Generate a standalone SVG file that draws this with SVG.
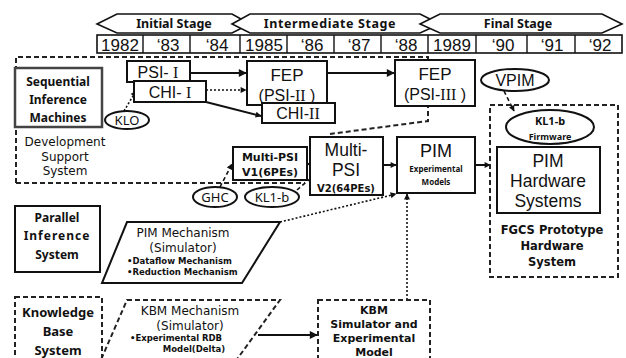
<svg xmlns="http://www.w3.org/2000/svg" width="626" height="358" viewBox="0 0 626 358">
<defs>
<marker id="ah" viewBox="0 0 10 10" refX="9" refY="5" markerWidth="9" markerHeight="8" orient="auto" markerUnits="userSpaceOnUse"><path d="M0,0 L10,5 L0,10 Z" fill="#111"/></marker>
<marker id="ahs" viewBox="0 0 10 10" refX="9" refY="5" markerWidth="7" markerHeight="6" orient="auto" markerUnits="userSpaceOnUse"><path d="M0,0 L10,5 L0,10 Z" fill="#111"/></marker>
</defs>
<style>
.box{fill:#fff;stroke:#111;stroke-width:2}
.gbox{fill:#fff;stroke:#444;stroke-width:2.5}
.dbox{fill:none;stroke:#222;stroke-width:2;stroke-dasharray:5 3}
.stage{fill:#fff;stroke:#111;stroke-width:1.6}
.t{font-family:"Noto Sans","Liberation Sans",sans-serif;fill:#111;text-anchor:middle}
.L{font-family:"Liberation Sans","Noto Sans",sans-serif;fill:#111;text-anchor:middle}
.D{font-family:"DejaVu Sans","Liberation Sans",sans-serif;fill:#111;text-anchor:middle}
.s{text-anchor:start}
.b{font-weight:bold}
.rn{font-family:"Liberation Serif",serif}
.yr{font-family:"Liberation Sans",sans-serif;font-size:17px;fill:#111;text-anchor:middle}
.ln{fill:none;stroke:#111;stroke-width:2}
.dot{fill:none;stroke:#111;stroke-width:1.6;stroke-dasharray:2 2}
.dsh{fill:none;stroke:#111;stroke-width:1.6;stroke-dasharray:4 3}
</style>

<g id="stages">
<polygon class="stage" points="97,24 117,14 232,14 250,24 232,33 117,33"/>
<polygon class="stage" points="232,24 250,14 420,14 440,24 420,33 250,33"/>
<polygon class="stage" points="420,24 440,14 602,14 622,24 602,33 440,33"/>
<text class="t b" x="174" y="28" font-size="12.5">Initial Stage</text>
<text class="t b" x="330" y="28" font-size="12.5" letter-spacing="0.6">Intermediate Stage</text>
<text class="t b" x="518" y="28" font-size="12.5">Final Stage</text>
</g>

<g id="years">
<rect x="97" y="35" width="525" height="18" fill="#fff" stroke="#111" stroke-width="1.6"/>
<g stroke="#111" stroke-width="1.4">
<line x1="143" y1="35" x2="143" y2="53"/><line x1="190" y1="35" x2="190" y2="53"/><line x1="240" y1="35" x2="240" y2="53"/>
<line x1="287" y1="35" x2="287" y2="53"/><line x1="334" y1="35" x2="334" y2="53"/><line x1="381" y1="35" x2="381" y2="53"/>
<line x1="428" y1="35" x2="428" y2="53"/><line x1="476" y1="35" x2="476" y2="53"/><line x1="527" y1="35" x2="527" y2="53"/>
<line x1="575" y1="35" x2="575" y2="53"/>
</g>
<text class="yr" x="120" y="51">1982</text>
<text class="yr" x="168" y="51">‘83</text>
<text class="yr" x="217" y="51">‘84</text>
<text class="yr" x="264" y="51">1985</text>
<text class="yr" x="312" y="51">‘86</text>
<text class="yr" x="359" y="51">‘87</text>
<text class="yr" x="406" y="51">‘88</text>
<text class="yr" x="452" y="51">1989</text>
<text class="yr" x="503" y="51">‘90</text>
<text class="yr" x="552" y="51">‘91</text>
<text class="yr" x="600" y="51">‘92</text>
</g>

<g id="dev-region">
<path class="dbox" d="M16,183 L16,57 L428,57 L428,121 L330,134"/>
<path class="dbox" d="M16,183 L305,183"/>
<text class="D" x="65" y="146" font-size="12">Development</text>
<text class="D" x="65" y="160.5" font-size="12">Support</text>
<text class="D" x="65" y="175" font-size="12">System</text>
</g>

<g id="connectors">
<line class="ln" x1="190" y1="73" x2="246" y2="73" stroke-width="3" marker-end="url(#ah)"/>
<line class="dot" x1="206" y1="90" x2="246" y2="90" marker-end="url(#ahs)"/>
<line class="ln" x1="206" y1="102" x2="261" y2="116" stroke-width="1.6" marker-end="url(#ahs)"/>
<line class="ln" x1="327" y1="73" x2="394" y2="73" stroke-width="1.8" marker-end="url(#ah)"/>
<line class="dsh" x1="504" y1="91" x2="514" y2="111" marker-end="url(#ahs)"/>
<line class="dot" x1="124" y1="111" x2="136" y2="91" marker-end="url(#ahs)"/>
<line class="dsh" x1="220" y1="187" x2="232" y2="164" marker-end="url(#ahs)"/>
<line class="dsh" x1="297" y1="190" x2="311" y2="178"/>
<line class="ln" x1="303" y1="164" x2="310" y2="164" marker-end="url(#ahs)"/>
<line class="ln" x1="383" y1="165" x2="396" y2="165" stroke-width="2.4" marker-end="url(#ahs)"/>
<line class="ln" x1="475" y1="165" x2="490" y2="165" stroke-width="2.4" marker-end="url(#ahs)"/>
<line class="dot" x1="280" y1="222" x2="396" y2="194" marker-end="url(#ahs)"/>
<line class="dot" x1="407" y1="300" x2="407" y2="194" marker-end="url(#ahs)"/>
<line class="ln" x1="258" y1="335" x2="317" y2="335" stroke-width="1.8" marker-end="url(#ah)"/>
</g>

<g id="seq">
<rect class="gbox" x="15" y="68" width="87" height="59"/>
<text class="t b" x="58" y="86" font-size="12">Sequential</text>
<text class="t b" x="58" y="104" font-size="12">Inference</text>
<text class="t b" x="58" y="122" font-size="12">Machines</text>
</g>

<g id="psi1">
<rect class="box" x="127" y="61" width="63" height="21"/>
<text class="L" x="158" y="78" font-size="16">PSI- <tspan class="rn">I</tspan></text>
</g>
<g id="chi1">
<rect class="box" x="134" y="81" width="72" height="21"/>
<text class="L" x="170" y="98" font-size="16">CHI- <tspan class="rn">I</tspan></text>
</g>
<g id="fep2">
<rect class="box" x="247" y="61" width="80" height="44"/>
<text class="L" x="287" y="81" font-size="17">FEP</text>
<text class="L" x="287" y="101" font-size="16">(PSI-<tspan class="rn">II</tspan> )</text>
</g>
<g id="chi2">
<rect class="box" x="262" y="103" width="73" height="20"/>
<text class="L" x="298" y="119" font-size="16">CHI-<tspan class="rn">II</tspan></text>
</g>
<g id="fep3">
<rect class="box" x="395" y="60" width="80" height="46"/>
<text class="L" x="435" y="80" font-size="17">FEP</text>
<text class="L" x="435" y="100" font-size="16">(PSI-<tspan class="rn">III</tspan> )</text>
</g>
<g id="klo">
<ellipse class="box" cx="127" cy="120" rx="22" ry="9" stroke-width="1.6"/>
<text class="t" x="127" y="125" font-size="13">KLO</text>
</g>
<g id="vpim">
<ellipse class="box" cx="515" cy="80" rx="34" ry="11" stroke-width="1.6"/>
<text class="L" x="515" y="86" font-size="16">VPIM</text>
</g>

<g id="fgcs">
<rect class="dbox" x="490" y="105" width="128" height="172"/>
<text class="D b" x="552" y="234" font-size="11.5">FGCS Prototype</text>
<text class="D b" x="552" y="250" font-size="11.5">Hardware</text>
<text class="D b" x="552" y="266" font-size="11.5">System</text>
</g>
<g id="kl1b-fw">
<ellipse class="box" cx="550" cy="127" rx="44" ry="17" stroke-width="1.6"/>
<text class="t b" x="550" y="125" font-size="11">KL1-b</text>
<text class="t b" x="550" y="140" font-size="9">Firmware</text>
</g>
<g id="pim-hw">
<rect class="box" x="497" y="147" width="103" height="66"/>
<text class="L" x="548" y="167" font-size="17.5">PIM</text>
<text class="L" x="548" y="187" font-size="17.5">Hardware</text>
<text class="L" x="548" y="207" font-size="17.5">Systems</text>
</g>

<g id="mpsi1">
<rect class="box" x="233" y="147" width="74" height="33"/>
<text class="D b" x="270" y="161" font-size="11">Multi-PSI</text>
<text class="D b" x="270" y="176" font-size="11">V1(6PEs)</text>
</g>
<g id="mpsi2">
<rect class="box" x="310" y="137" width="73" height="58"/>
<text class="L" x="346" y="156" font-size="17.5">Multi-</text>
<text class="L" x="346" y="176" font-size="17.5">PSI</text>
<text class="D b" x="346" y="192" font-size="10">V2(64PEs)</text>
</g>
<g id="pim-exp">
<rect class="box" x="397" y="137" width="78" height="56"/>
<text class="L" x="436" y="157" font-size="18">PIM</text>
<text class="t b" x="436" y="172" font-size="8">Experimental</text>
<text class="t b" x="436" y="185" font-size="8">Models</text>
</g>
<g id="ghc">
<ellipse class="box" cx="215" cy="197" rx="22" ry="10" stroke-width="1.6"/>
<text class="t" x="215" y="202" font-size="13">GHC</text>
</g>
<g id="kl1b">
<ellipse class="box" cx="272" cy="197" rx="27" ry="10" stroke-width="1.6"/>
<text class="t" x="272" y="202" font-size="13">KL1-b</text>
</g>

<g id="parallel">
<rect class="box" x="15" y="206" width="85" height="66"/>
<text class="t b" x="57" y="222" font-size="12">Parallel</text>
<text class="t b" x="57" y="240" font-size="12" letter-spacing="1">Inference</text>
<text class="t b" x="57" y="259" font-size="12">System</text>
</g>
<g id="pim-mech">
<polygon class="box" points="127,222 280,222 242,283 102,283" stroke-width="1.8"/>
<text class="D" x="183" y="237" font-size="12">PIM Mechanism</text>
<text class="D" x="183" y="251.5" font-size="12">(Simulator)</text>
<text class="D b s" x="127" y="264" font-size="8.5">•Dataflow Mechanism</text>
<text class="D b s" x="127" y="275" font-size="8.5">•Reduction Mechanism</text>
</g>

<g id="kbs">
<rect class="dbox" x="15" y="297" width="87" height="70"/>
<text class="t b" x="58" y="317" font-size="13">Knowledge</text>
<text class="t b" x="58" y="336" font-size="13">Base</text>
<text class="t b" x="58" y="355" font-size="13">System</text>
</g>
<g id="kbm-mech">
<polygon class="dbox" points="127,300 280,300 235,362 100,362"/>
<text class="D" x="190" y="315" font-size="12">KBM Mechanism</text>
<text class="D" x="190" y="329.5" font-size="12">(Simulator)</text>
<text class="D b s" x="130" y="341" font-size="8.5">•Experimental RDB</text>
<text class="D b" x="194" y="352" font-size="8.5">Model(Delta)</text>
</g>
<g id="kbm-sim">
<rect class="dbox" x="318" y="300" width="112" height="70"/>
<text class="D b" x="374" y="314" font-size="11">KBM</text>
<text class="D b" x="374" y="328" font-size="11">Simulator and</text>
<text class="D b" x="374" y="342" font-size="11">Experimental</text>
<text class="D b" x="374" y="356" font-size="11">Model</text>
</g>
</svg>
